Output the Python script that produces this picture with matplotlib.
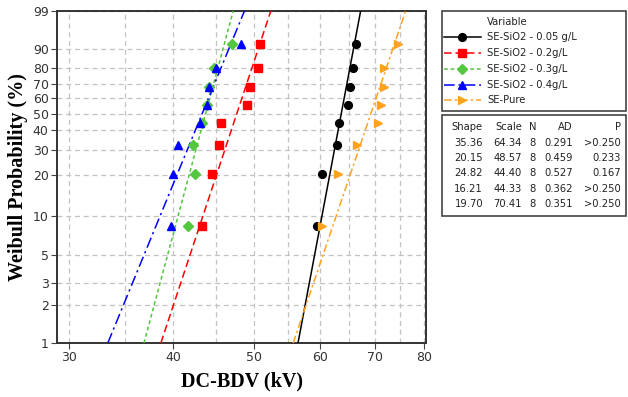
import numpy as np
import matplotlib
matplotlib.use("Agg")
import matplotlib.pyplot as plt
from matplotlib.lines import Line2D
from matplotlib.patches import Rectangle
from matplotlib.ticker import NullFormatter

# ---------------- data ----------------
series_names = ["SE-SiO2 - 0.05 g/L", "SE-SiO2 - 0.2g/L", "SE-SiO2 - 0.3g/L",
                "SE-SiO2 - 0.4g/L", "SE-Pure"]
plot_pos = [8.33, 20.24, 32.14, 44.05, 55.95, 67.86, 79.76, 91.67]  # median ranks (%)
bdv_005 = [59.6, 60.4, 62.9, 63.3, 64.9, 65.2, 65.8, 66.4]
bdv_02 = [43.3, 44.5, 45.4, 45.7, 49.0, 49.4, 50.6, 50.9]
bdv_03 = [41.7, 42.5, 42.3, 43.3, 43.9, 44.2, 44.8, 47.1]
bdv_04 = [39.7, 40.0, 40.5, 43.1, 43.9, 44.2, 45.05, 48.2]
bdv_pure = [60.3, 63.1, 66.6, 70.4, 71.0, 71.7, 71.6, 74.5]

shape = [35.36, 20.15, 24.82, 16.21, 19.70]
scale = [64.34, 48.57, 44.40, 44.33, 70.41]
n_obs = [8, 8, 8, 8, 8]
ad = ["0.291", "0.459", "0.527", "0.362", "0.351"]
pval = [">0.250", "0.233", "0.167", ">0.250", ">0.250"]

x_ticks = [30, 40, 50, 60, 70, 80]
x_minor = [35, 45, 55, 65, 75]
y_ticks = [1, 2, 3, 5, 10, 20, 30, 40, 50, 60, 70, 80, 90, 99]

# ---------------- styles ----------------
colors = ["#000000", "#ff0000", "#55c640", "#0000ff", "#ffa220"]
markers = ["o", "s", "D", "^", ">"]
msizes = [5.6, 5.6, 4.8, 6.2, 6.2]
dashes = [None, (5, 2.5), (2.5, 1.8), (7, 2.5, 1.5, 2.5), (5, 2, 1.5, 2)]
data = [bdv_005, bdv_02, bdv_03, bdv_04, bdv_pure]

W, H = 628, 397
fig = plt.figure(figsize=(W / 100, H / 100), dpi=100)
L, R, T, B = 57, 426, 11, 343
ax = fig.add_axes([L / W, 1 - B / H, (R - L) / W, (B - T) / H])


def fwd(p):
    p = np.clip(np.asarray(p, dtype=float), 1e-6, 100 - 1e-6)
    return np.log(-np.log(1 - p / 100.0))


def inv(y):
    y = np.asarray(y, dtype=float)
    return 100.0 * (1 - np.exp(-np.exp(y)))


ax.set_yscale("function", functions=(fwd, inv))
ax.set_xscale("log")

p_line = np.linspace(1, 99, 400)
for i in range(5):
    xl = scale[i] * (-np.log(1 - p_line / 100.0)) ** (1.0 / shape[i])
    ln, = ax.plot(xl, p_line, color=colors[i], lw=1.1, zorder=3)
    if dashes[i] is not None:
        ln.set_dashes(dashes[i])
for i in range(5):
    ax.plot(data[i], plot_pos, linestyle="none", marker=markers[i],
            color=colors[i], markersize=msizes[i], zorder=4)

ax.set_xlim(29.0, 80.5)
ax.set_ylim(1, 99)
ax.set_xticks(x_ticks, labels=[str(v) for v in x_ticks])
ax.set_xticks(x_minor, minor=True)
ax.xaxis.set_minor_formatter(NullFormatter())
ax.set_yticks(y_ticks, labels=[str(v) for v in y_ticks])
ax.set_yticks([], minor=True)
ax.grid(True, which="both", color="#c2c2c2", linestyle=(0, (4, 3)), lw=0.9)
ax.tick_params(axis="both", which="major", length=4, width=0.8, color="#444444",
               labelsize=9, labelcolor="#333333", pad=2)
ax.tick_params(axis="x", which="minor", length=0)
for s in ax.spines.values():
    s.set_linewidth(1.4)
    s.set_color("#333333")

ax.set_xlabel("DC-BDV (kV)", family="Liberation Serif", fontweight="bold",
              fontsize=14.5, labelpad=5)
ax.set_ylabel("Weibull Probability (%)", family="Liberation Serif",
              fontweight="bold", fontsize=14.5, labelpad=3)

# ---------------- legend / table panel ----------------
LX0, LY0, LX1, LY1 = 441, 10, 627, 217
lax = fig.add_axes([LX0 / W, 1 - LY1 / H, (LX1 - LX0) / W, (LY1 - LY0) / H])
lax.set_xlim(LX0, LX1)
lax.set_ylim(LY1, LY0)
lax.axis("off")

lax.add_patch(Rectangle((442, 11), 184, 100, fill=False, ec="#444444", lw=1.2))
lax.add_patch(Rectangle((442, 115), 184, 101, fill=False, ec="#444444", lw=1.2))

fs = 7.2
lax.text(487, 22, "Variable", fontsize=fs, va="center", ha="left", color="#222222")
rows_y = [37, 53, 69, 85, 100]
for i in range(5):
    y = rows_y[i]
    ln = Line2D([444, 481], [y, y], color=colors[i], lw=1.1)
    if dashes[i] is not None:
        ln.set_dashes(dashes[i])
    lax.add_line(ln)
    lax.add_line(Line2D([462], [y], marker=markers[i], color=colors[i],
                        markersize=msizes[i], linestyle="none"))
    lax.text(487, y, series_names[i], fontsize=fs, va="center", ha="left",
             color="#222222")

hy = 127
lax.text(451, hy, "Shape", fontsize=fs, va="center", ha="left", color="#222222")
lax.text(522, hy, "Scale", fontsize=fs, va="center", ha="right", color="#222222")
lax.text(533, hy, "N", fontsize=fs, va="center", ha="center", color="#222222")
lax.text(573, hy, "AD", fontsize=fs, va="center", ha="right", color="#222222")
lax.text(621, hy, "P", fontsize=fs, va="center", ha="right", color="#222222")
tab_y = [143, 158, 173, 189, 204]
for i in range(5):
    y = tab_y[i]
    lax.text(483, y, f"{shape[i]:.2f}", fontsize=fs, va="center", ha="right", color="#222222")
    lax.text(522, y, f"{scale[i]:.2f}", fontsize=fs, va="center", ha="right", color="#222222")
    lax.text(533, y, str(n_obs[i]), fontsize=fs, va="center", ha="center", color="#222222")
    lax.text(573, y, ad[i], fontsize=fs, va="center", ha="right", color="#222222")
    lax.text(621, y, pval[i], fontsize=fs, va="center", ha="right", color="#222222")

fig.savefig("out.png", dpi=100)
